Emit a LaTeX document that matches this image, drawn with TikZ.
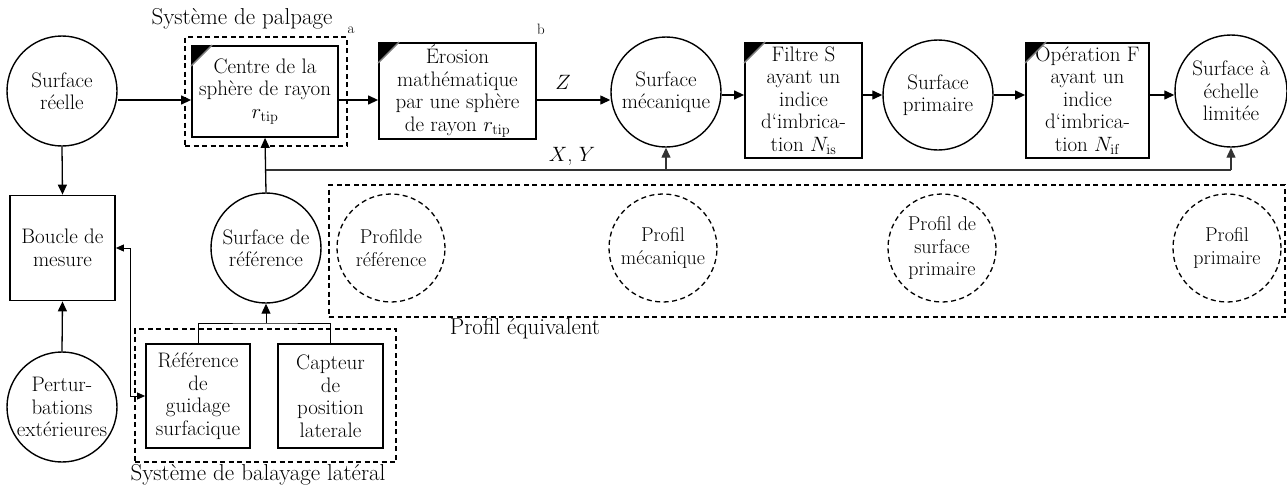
\documentclass[tikz,border=0pt]{standalone}
\usetikzlibrary{arrows.meta}

\begin{document}
\begin{tikzpicture}[x=1pt, y=-1pt,
  every node/.style={font=\fontsize{21}{22.5}\selectfont},
  surf/.style={circle, draw, line width=1.4pt, minimum size=110pt, inner sep=0pt, align=center},
  prof/.style={circle, draw, dash pattern=on 5pt off 3.5pt, line width=1.3pt, minimum size=108pt, inner sep=0pt, align=center, font=\fontsize{20}{22.5}\selectfont},
  op/.style={rectangle, draw, line width=1.8pt, inner sep=0pt, align=center},
  grp/.style={rectangle, draw, dash pattern=on 5pt off 3.5pt, line width=1.3pt, inner sep=0pt},
  arr/.style={-{Triangle[length=10pt,width=9pt]}, line width=1.3pt},
  lbl/.style={font=\fontsize{23}{25}\selectfont},
  note/.style={font=\fontsize{15}{15}\selectfont}]
  \useasboundingbox (0,0) rectangle (1287,490);

  % Nodes, top row
  \node[surf] (sr) at (62,91) {Surface\\réelle};
  \node[grp, minimum width=162pt, minimum height=109pt] (palp) at (266,91.5) {};
  \node[op, minimum width=146pt, minimum height=91pt] (cs) at (265,91.5) {Centre de la\\sphère de rayon\\$r_{\mathrm{tip}}$};
  \node[op, minimum width=157pt, minimum height=96pt] (er) at (457.5,91) {Érosion\\mathématique\\par une sphère\\de rayon $r_{\mathrm{tip}}$};
  \node[surf] (sm) at (666,92) {Surface\\mécanique};
  \node[op, minimum width=117pt, minimum height=115pt] (fs) at (803.5,100.5) {Filtre S\\ayant un\\indice\\d‘imbrica-\\tion $N_{\mathrm{is}}$};
  \node[surf] (sp) at (938,95) {Surface\\primaire};
  \node[op, minimum width=123pt, minimum height=115pt] (of) at (1087.5,100.5) {Opération F\\ayant un\\indice\\d‘imbrica-\\tion $N_{\mathrm{if}}$};
  \node[surf, minimum size=112pt] (sel) at (1231,91) {Surface à\\échelle\\limitée};

  % Nodes, lower part
  \node[op, minimum size=105pt] (bm) at (62.5,248) {Boucle de\\mesure};
  \node[surf] (pe) at (62,407) {Pertur-\\bations\\extérieures};
  \node[surf] (sref) at (266,248) {Surface de\\référence};
  \node[grp, minimum width=261pt, minimum height=133pt] (bal) at (265.5,395.5) {};
  \node[op, minimum width=104pt, minimum height=104pt] (rg) at (198,396) {Référence\\de\\guidage\\surfacique};
  \node[op, minimum width=105pt, minimum height=104pt] (cp) at (330.5,396) {Capteur\\de\\position\\laterale};
  \node[grp, minimum width=956pt, minimum height=132pt] (eq) at (807,251) {};
  \node[prof] (pr) at (391,248) {Profilde\\référence};
  \node[prof] (pm) at (663,248) {Profil\\mécanique};
  \node[prof] (pps) at (942,248) {Profil de\\surface\\primaire};
  \node[prof] (pp) at (1227,248) {Profil\\primaire};

  % Labels
  \node[lbl] (palpt) at (242,19) {Système de palpage};
  \node[note] (na) at (351,30) {a};
  \node[note] (nb) at (541,29) {b};
  \node[lbl] (balt) at (258,475) {Système de balayage latéral};
  \node[lbl] (eqt) at (525,329) {Profil équivalent};
  \node (zl) at (563,82) {$Z$};
  \node (xyl) at (572,156) {$X$, $Y$};

  % Corner marks of the operations
  \foreach \n in {cs, er, fs, of}
  {
    \fill (\n.north west) -- ([xshift=21pt]\n.north west) -- ([yshift=-21pt]\n.north west) -- cycle;
    \draw[gray, line width=1.4pt] ([xshift=21pt]\n.north west) -- ([yshift=-21pt]\n.north west);
  }

  \coordinate (row) at (0,100);
  \coordinate (row2) at (0,95);
  \coordinate (xy) at (266,170);
  \coordinate (jn) at (266,323);

  % Main chain
  \draw[arr] (sr.east |- row) -- (cs.west |- row);
  \draw[arr] (cs.east |- row) -- (er.west |- row);
  \draw[arr] (er.east |- row) -- (sm.west |- row);
  \foreach \a/\b in {sm/fs, fs/sp, sp/of, of/sel}
  {
    \draw[arr] (\a.east |- row2) -- (\b.west |- row2);
  }

  % Reference and X, Y
  \draw[arr] (sref.north) -- (cs.south);
  \draw[line width=1.3pt, black!80] (xy) -- (xy -| sel.south);
  \foreach \n in {sm, sel}
  {
    \draw[arr, black!80] (xy -| \n.south) -- (\n.south);
  }

  % Measuring loop
  \draw[arr] (sr.south) -- (bm.north);
  \draw[arr] (pe.north) -- (bm.south);
  \draw[{Triangle[length=8pt,width=7pt]}-{Triangle[length=8pt,width=7pt]}, line width=0.9pt] (bm.east) -- ++(15,0) |- (rg.west);
  \draw[line width=1pt] (rg.north) |- (jn) -| (cp.north);
  \draw[arr, line width=1pt] (jn) -- (sref.south);
\end{tikzpicture}
\end{document}
